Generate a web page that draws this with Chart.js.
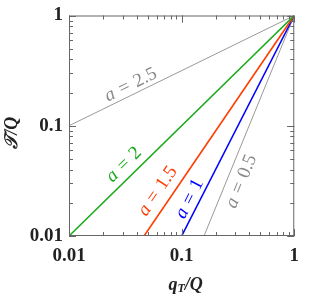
<!DOCTYPE html>
<html>
<head>
<meta charset="utf-8">
<script src="https://cdn.jsdelivr.net/npm/chart.js@4"></script>
<style>
  html, body { margin: 0; padding: 0; background: #fff; }
  #wrap { width: 310px; height: 297px; }
</style>
</head>
<body>
<div id="wrap"><canvas id="chart" width="310" height="297"></canvas></div>
<script>
// each curve is a straight line on log-log axes, so two points are enough
const curveNames = ['2.5', '2', '1.5', '1', '0.5'];
const startX = [0.01, 0.01, 0.0464, 0.1, 0.158];
const startY = [0.1, 0.01, 0.01, 0.01, 0.01];
const endX = [1, 1, 1, 1, 1];
const endY = [1, 1, 1, 1, 1];
// where the "a = ..." labels sit (data coords)
const labelX = [0.0354, 0.0307, 0.0614, 0.1178, 0.340];
const labelY = [0.235, 0.0443, 0.0255, 0.0217, 0.0313];
const majorTicks = [0.01, 0.1, 1];

const colors = ['#999999', '#1aaa1a', '#ff3c00', '#0000ff', '#999999'];
const widths = [1, 1.6, 1.6, 1.6, 1];
const labelColors = ['#8a8a8a', '#1aaa1a', '#ff3c00', '#0000ff', '#8a8a8a'];

const datasets = curveNames.map((n, i) => ({
    label: 'a = ' + n,
    data: [{x: startX[i], y: startY[i]}, {x: endX[i], y: endY[i]}],
    borderColor: colors[i],
    borderWidth: widths[i],
    pointRadius: 0,
    fill: false
}));

const serif = '"Liberation Serif", "DejaVu Serif", serif';

const decor = {
    id: 'decor',
    afterDatasetsDraw(chart) {
        const ctx = chart.ctx;
        const a = chart.chartArea;
        const xs = chart.scales.x, ys = chart.scales.y;
        ctx.save();
        // frame
        ctx.strokeStyle = '#666';
        ctx.lineWidth = 1;
        ctx.strokeRect(a.left + 0.5, a.top + 0.5, a.right - a.left - 1, a.bottom - a.top - 1);
        // inward ticks on all four sides
        ctx.beginPath();
        [0.01, 0.1].forEach(d => {
            for (let k = 1; k <= 10; k++) {
                const v = d * k;
                if (v > 1.0001) continue;
                const len = (k === 1 || k === 10) ? 7 : 4;
                const px = Math.round(xs.getPixelForValue(v)) + 0.5;
                const py = Math.round(ys.getPixelForValue(v)) + 0.5;
                ctx.moveTo(px, a.bottom); ctx.lineTo(px, a.bottom - len);
                ctx.moveTo(px, a.top); ctx.lineTo(px, a.top + len);
                ctx.moveTo(a.left, py); ctx.lineTo(a.left + len, py);
                ctx.moveTo(a.right, py); ctx.lineTo(a.right - len, py);
            }
        });
        ctx.stroke();

        // curve labels along the lines
        curveNames.forEach((n, i) => {
            const x0 = xs.getPixelForValue(startX[i]), y0 = ys.getPixelForValue(startY[i]);
            const x1 = xs.getPixelForValue(endX[i]), y1 = ys.getPixelForValue(endY[i]);
            const ang = Math.atan2(y1 - y0, x1 - x0);
            const cx = xs.getPixelForValue(labelX[i]), cy = ys.getPixelForValue(labelY[i]);
            ctx.save();
            ctx.translate(cx, cy);
            ctx.rotate(ang);
            ctx.fillStyle = labelColors[i];
            ctx.textBaseline = 'middle';
            ctx.textAlign = 'left';
            const fI = 'italic 19px ' + serif, fR = '19px ' + serif;
            ctx.font = fI; const wa = ctx.measureText('a').width;
            ctx.font = fR; const we = ctx.measureText('=').width; const wn = ctx.measureText(n).width;
            const gap = 6;
            let x = -(wa + we + wn + 2 * gap) / 2;
            ctx.font = fI; ctx.fillText('a', x, 0); x += wa + gap;
            ctx.font = fR; ctx.fillText('=', x, 0); x += we + gap;
            ctx.fillText(n, x, 0);
            ctx.restore();
        });

        // axis titles
        ctx.fillStyle = '#222';
        ctx.textBaseline = 'middle';
        ctx.save();
        ctx.translate(12, (a.top + a.bottom) / 2 + 7);
        ctx.rotate(-Math.PI / 2);
        ctx.textAlign = 'center';
        ctx.font = 'bold italic 18px ' + serif;
        ctx.fillText('\u{1D4AF}/Q', 0, 0);
        ctx.restore();

        const fT = 'bold italic 18px ' + serif, fS = 'bold italic 12px ' + serif;
        ctx.font = fT; const wq = ctx.measureText('q').width, wr = ctx.measureText('/Q').width;
        ctx.font = fS; const ws = ctx.measureText('T').width;
        let tx = (a.left + a.right) / 2 + 4 - (wq + ws + wr) / 2;
        const ty = 285;
        ctx.textAlign = 'left';
        ctx.font = fT; ctx.fillText('q', tx, ty); tx += wq;
        ctx.font = fS; ctx.fillText('T', tx, ty + 4); tx += ws;
        ctx.font = fT; ctx.fillText('/Q', tx, ty);
        ctx.restore();
    }
};

const tickFont = { family: serif, size: 19, weight: 'bold', lineHeight: 1 };

new Chart(document.getElementById('chart'), {
    type: 'line',
    data: { datasets: datasets },
    options: {
        responsive: false,
        animation: false,
        layout: { padding: { left: 0, right: 15, top: 10, bottom: 0 } },
        plugins: { legend: { display: false }, tooltip: { enabled: false } },
        scales: {
            x: {
                type: 'logarithmic',
                min: 0.01, max: 1,
                afterBuildTicks: s => { s.ticks = majorTicks.map(v => ({ value: v })); },
                afterFit: s => { s.height = 61; },
                grid: { display: false, drawTicks: false },
                border: { display: false },
                ticks: {
                    font: tickFont, color: '#222', padding: 11, maxRotation: 0,
                    callback: v => String(v)
                }
            },
            y: {
                type: 'logarithmic',
                min: 0.01, max: 1,
                afterBuildTicks: s => { s.ticks = majorTicks.map(v => ({ value: v })); },
                afterFit: s => { s.width = 69; },
                grid: { display: false, drawTicks: false },
                border: { display: false },
                ticks: {
                    font: tickFont, color: '#222', padding: 6,
                    callback: v => String(v)
                }
            }
        }
    },
    plugins: [decor]
});
</script>
</body>
</html>
